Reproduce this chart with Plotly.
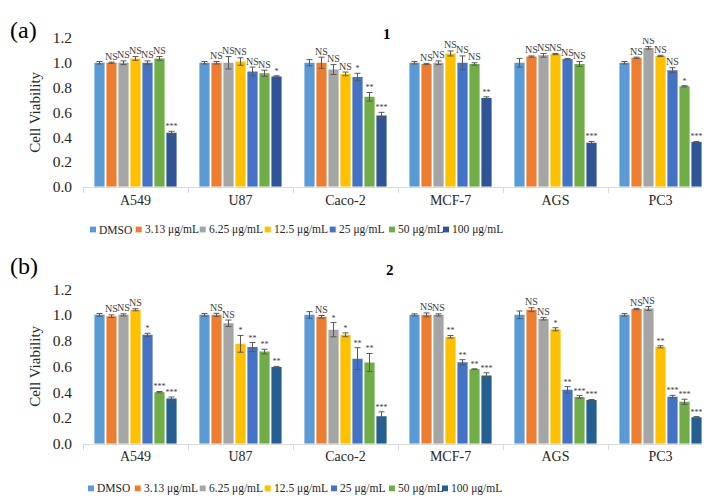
import plotly.graph_objects as go

cell_lines = ["A549", "U87", "Caco-2", "MCF-7", "AGS", "PC3"]
doses = ["DMSO", "3.13 μg/mL", "6.25 μg/mL", "12.5 μg/mL", "25 μg/mL", "50 μg/mL", "100 μg/mL"]
y_ticks = [0.0, 0.2, 0.4, 0.6, 0.8, 1.0, 1.2]

colors_a = ["#5B9BD5", "#ED7D31", "#A5A5A5", "#FFC000", "#4472C4", "#70AD47", "#2F5597"]
colors_b = ["#5B9BD5", "#ED7D31", "#A5A5A5", "#FFC000", "#4472C4", "#70AD47", "#255E91"]

# ---- Panel (a): compound 1 ----
a_dmso = [1.00, 1.00, 1.00, 1.00, 1.00, 1.00]
a_3_13 = [1.00, 1.00, 1.00, 0.99, 1.05, 1.04]
a_6_25 = [1.00, 1.00, 0.945, 1.00, 1.06, 1.12]
a_12_5 = [1.035, 1.01, 0.91, 1.075, 1.07, 1.055]
a_25 = [1.00, 0.93, 0.885, 1.00, 1.03, 0.94]
a_50 = [1.035, 0.915, 0.725, 0.99, 0.99, 0.81]
a_100 = [0.435, 0.89, 0.575, 0.715, 0.355, 0.36]

a_err_dmso = [0.01, 0.01, 0.025, 0.01, 0.035, 0.01]
a_err_3_13 = [0.005, 0.01, 0.045, 0.005, 0.005, 0.005]
a_err_6_25 = [0.015, 0.05, 0.04, 0.015, 0.015, 0.01]
a_err_12_5 = [0.015, 0.03, 0.015, 0.02, 0.005, 0.005]
a_err_25 = [0.015, 0.035, 0.03, 0.055, 0.005, 0.02]
a_err_50 = [0.015, 0.025, 0.035, 0.01, 0.02, 0.005]
a_err_100 = [0.012, 0.005, 0.025, 0.01, 0.01, 0.005]

a_sig_dmso = ["", "", "", "", "", ""]
a_sig_3_13 = ["NS", "NS", "NS", "NS", "NS", "NS"]
a_sig_6_25 = ["NS", "NS", "NS", "NS", "NS", "NS"]
a_sig_12_5 = ["NS", "NS", "NS", "NS", "NS", "NS"]
a_sig_25 = ["NS", "NS", "*", "NS", "NS", "NS"]
a_sig_50 = ["NS", "NS", "**", "NS", "NS", "*"]
a_sig_100 = ["***", "*", "***", "**", "***", "***"]

# ---- Panel (b): compound 2 ----
b_dmso = [1.00, 1.00, 1.00, 1.00, 1.00, 1.00]
b_3_13 = [0.99, 1.00, 0.985, 1.00, 1.04, 1.045]
b_6_25 = [1.00, 0.935, 0.885, 1.00, 0.97, 1.05]
b_12_5 = [1.04, 0.775, 0.845, 0.83, 0.888, 0.752]
b_25 = [0.845, 0.75, 0.66, 0.632, 0.418, 0.365]
b_50 = [0.40, 0.715, 0.63, 0.578, 0.363, 0.325]
b_100 = [0.35, 0.595, 0.212, 0.53, 0.338, 0.205]

b_err_dmso = [0.01, 0.01, 0.025, 0.008, 0.03, 0.01]
b_err_3_13 = [0.01, 0.012, 0.01, 0.015, 0.015, 0.005]
b_err_6_25 = [0.008, 0.025, 0.055, 0.008, 0.01, 0.015]
b_err_12_5 = [0.008, 0.065, 0.015, 0.01, 0.012, 0.008]
b_err_25 = [0.012, 0.035, 0.085, 0.02, 0.025, 0.01]
b_err_50 = [0.005, 0.018, 0.07, 0.003, 0.01, 0.02]
b_err_100 = [0.012, 0.005, 0.035, 0.02, 0.005, 0.005]

b_sig_dmso = ["", "", "", "", "", ""]
b_sig_3_13 = ["NS", "NS", "NS", "NS", "NS", "NS"]
b_sig_6_25 = ["NS", "NS", "*", "NS", "NS", "NS"]
b_sig_12_5 = ["NS", "*", "*", "**", "*", "**"]
b_sig_25 = ["*", "**", "**", "**", "**", "***"]
b_sig_50 = ["***", "**", "**", "**", "***", "***"]
b_sig_100 = ["***", "**", "***", "***", "***", "***"]

panels = [
    dict(vals=[a_dmso, a_3_13, a_6_25, a_12_5, a_25, a_50, a_100],
         errs=[a_err_dmso, a_err_3_13, a_err_6_25, a_err_12_5, a_err_25, a_err_50, a_err_100],
         sigs=[a_sig_dmso, a_sig_3_13, a_sig_6_25, a_sig_12_5, a_sig_25, a_sig_50, a_sig_100],
         colors=colors_a, xa="x", ya="y", grp="a"),
    dict(vals=[b_dmso, b_3_13, b_6_25, b_12_5, b_25, b_50, b_100],
         errs=[b_err_dmso, b_err_3_13, b_err_6_25, b_err_12_5, b_err_25, b_err_50, b_err_100],
         sigs=[b_sig_dmso, b_sig_3_13, b_sig_6_25, b_sig_12_5, b_sig_25, b_sig_50, b_sig_100],
         colors=colors_b, xa="x2", ya="y2", grp="b"),
]

FONT = "Liberation Serif"
W, H = 710, 499

fig = go.Figure()
for p in panels:
    for i, dose in enumerate(doses):
        fig.add_trace(go.Bar(
            x=cell_lines, y=p["vals"][i], name=dose,
            marker=dict(color=p["colors"][i], line=dict(width=0)),
            error_y=dict(type="data", array=p["errs"][i], visible=True,
                         color="#595959", thickness=1, width=3),
            xaxis=p["xa"], yaxis=p["ya"], offsetgroup=str(i),
            alignmentgroup=p["grp"], showlegend=False,
        ))
    for i, dose in enumerate(doses):
        tops = [v + e for v, e in zip(p["vals"][i], p["errs"][i])]
        sizes = [10 if s == "NS" else 8 for s in p["sigs"][i]]
        fig.add_trace(go.Scatter(
            x=cell_lines, y=tops, mode="text", text=p["sigs"][i],
            textposition="top center",
            textfont=dict(family=FONT, size=sizes, color="#404040"),
            xaxis=p["xa"], yaxis=p["ya"], offsetgroup=str(i),
            alignmentgroup=p["grp"], showlegend=False, hoverinfo="skip",
        ))

xdom = [75 / W, 705 / W]
common_x = dict(domain=xdom, type="category", showline=True, linecolor="#D9D9D9",
                linewidth=1, ticks="outside", tickson="boundaries", ticklen=5,
                tickcolor="#D9D9D9", showgrid=False,
                tickfont=dict(family=FONT, size=14, color="#262626"))
common_y = dict(range=[0, 1.2], tickvals=y_ticks, tickformat=".1f", showgrid=False,
                zeroline=False, showline=False, ticks="", ticklabelstandoff=10,
                tickfont=dict(family=FONT, size=15.5, color="#262626"),
                title=dict(text="Cell Viability", font=dict(family=FONT, size=15, color="#262626"),
                           standoff=8))

fig.update_layout(
    width=W, height=H, margin=dict(l=0, r=0, t=0, b=0),
    paper_bgcolor="white", plot_bgcolor="white",
    barmode="group", bargap=0.2, bargroupgap=0.15,
    scattermode="group", scattergap=0.2,
    showlegend=False,
    xaxis=dict(**common_x, anchor="y"),
    yaxis=dict(**common_y, domain=[1 - 175.7 / H, 1 - 21.7 / H], anchor="x"),
    xaxis2=dict(**common_x, anchor="y2"),
    yaxis2=dict(**common_y, domain=[1 - 441.7 / H, 1 - 281.7 / H], anchor="x2"),
)

annotations = [
    dict(text="(a)", x=0, y=1 - 13 / H, xref="paper", yref="paper", xanchor="left",
         yanchor="middle", showarrow=False, font=dict(family=FONT, size=24, color="black")),
    dict(text="(b)", x=0, y=1 - 258 / H, xref="paper", yref="paper", xanchor="left",
         yanchor="middle", showarrow=False, font=dict(family=FONT, size=24, color="black")),
    dict(text="<b>1</b>", x=379 / W, y=1 - 7 / H, xref="paper", yref="paper",
         showarrow=False, font=dict(family=FONT, size=15, color="black")),
    dict(text="<b>2</b>", x=382 / W, y=1 - 262 / H, xref="paper", yref="paper",
         showarrow=False, font=dict(family=FONT, size=15, color="black")),
]

shapes = []
legend_rows = [
    (220, [82, 127.7, 191.7, 256.7, 321.7, 381, 435], colors_a),
    (488, [80, 126.7, 191.7, 256.7, 323, 381, 434], colors_b),
]
for ypx, xs, cols in legend_rows:
    for xpx, dose, col in zip(xs, doses, cols):
        shapes.append(dict(type="rect", xref="paper", yref="paper",
                           x0=xpx / W, x1=(xpx + 6) / W,
                           y0=1 - (ypx + 3) / H, y1=1 - (ypx - 3) / H,
                           fillcolor=col, line=dict(width=0)))
        annotations.append(dict(text=dose, x=(xpx + 7) / W, y=1 - ypx / H,
                                xref="paper", yref="paper", xanchor="left",
                                yanchor="middle", showarrow=False,
                                font=dict(family=FONT, size=11.5, color="#262626")))

fig.update_layout(annotations=annotations, shapes=shapes)
fig.write_html("out.html")
